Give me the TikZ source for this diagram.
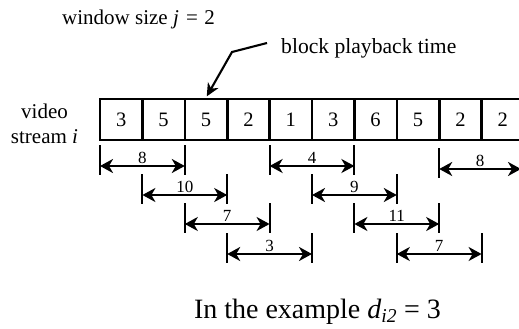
\documentclass[tikz,border=0pt]{standalone}
\usepackage{fontspec}
\setmainfont{Liberation Serif}
\usetikzlibrary{arrows.meta,calc}
\newcommand\mydim[5]{%
  \coordinate (#1a) at (#2,#4);
  \coordinate (#1b) at (#3,#4);
  \draw[tickline] ([yshift=21pt]#1a) -- ([yshift=-9pt]#1a);
  \draw[tickline] ([yshift=21pt]#1b) -- ([yshift=-9pt]#1b);
  \draw[dimline] (#1a) -- (#1b);
  \node[dimlabel] (#1l) at ([yshift=2.5pt]$(#1a)!0.5!(#1b)$) {#5};
}
\begin{document}
\begin{tikzpicture}[x=1pt,y=-1pt,
  cellbox/.style={draw, line width=2.6pt, minimum width=42.4pt, minimum height=41pt,
    inner sep=0pt, font=\fontsize{20.5}{20.5}\selectfont},
  headtip/.tip={Stealth[length=13pt,width=14pt,inset=4pt]},
  dimline/.style={line width=2.2pt, headtip-headtip},
  tickline/.style={line width=2pt},
  dimlabel/.style={font=\fontsize{17}{17}\selectfont, inner sep=0pt, anchor=base},
  lbl/.style={font=\fontsize{21}{24}\selectfont, inner sep=0pt, anchor=base},
  pointer/.style={line width=2.1pt, -{Stealth[length=13pt,width=12pt,inset=4pt]}}]
\useasboundingbox (0,0) rectangle (519,329);
\clip (0,0) rectangle (519,329);
% cells
\foreach \v [count=\k] in {3,5,5,2,1,3,6,5,2,2}
  \node[cellbox] (c\k) at ({100+42.4*(\k-0.5)},119.5) {\v};
% labels
\node[lbl, anchor=base west] (win) at (62,25) {window size \textit{j}\hspace{0.1em} = \hspace{0.05em}2};
\node[lbl, font=\fontsize{21.6}{24}\selectfont, anchor=base west] (bpt) at (281,53) {block playback time};
\node[lbl] (vid) at (44.5,118) {video};
\node[lbl] (str) at (44.5,143) {stream \textit{i}};
\node[font=\fontsize{28}{30}\selectfont, anchor=base, inner sep=0pt] (cap) at (317.5,318)
  {In the example \textit{d}\textsubscript{\textit{i2}} = 3};
% pointer
\coordinate (p0) at (267,43);
\coordinate (p1) at (232,52);
\draw[pointer, shorten >=1.5pt] (p0) -- (p1) -- (c3.north);
% dimension arrows
\mydim{da}{100}{184.8}{166}{8}
\mydim{db}{142.4}{227.2}{195}{10}
\mydim{dc}{184.8}{269.6}{224}{7}
\mydim{dd}{227.2}{312}{254}{3}
\mydim{de}{269.6}{354.4}{166}{4}
\mydim{df}{312}{396.8}{195}{9}
\mydim{dg}{354.4}{439.2}{224}{11}
\mydim{dh}{396.8}{481.6}{254}{7}
\mydim{di}{439.2}{521}{169}{8}
\end{tikzpicture}
\end{document}
